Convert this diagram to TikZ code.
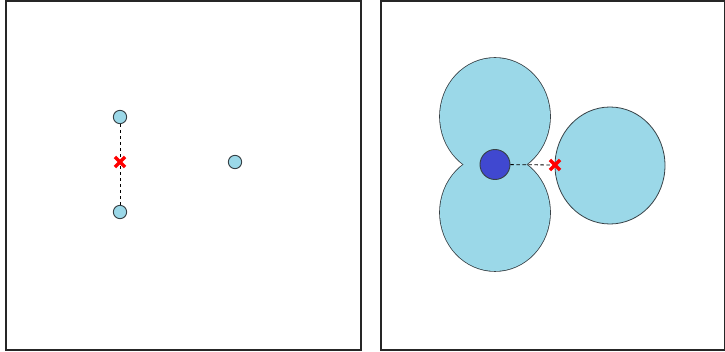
\documentclass[tikz,border=0pt]{standalone}
\usetikzlibrary{shapes.misc}
\definecolor{lobeblue}{RGB}{155,216,232}
\definecolor{coreblue}{RGB}{64,72,208}
\definecolor{edgegray}{RGB}{55,65,70}
\tikzset{
  site/.style={circle,draw=edgegray,fill=lobeblue,line width=0.7pt,minimum size=10pt,inner sep=0pt},
  mid/.style={cross out,draw=red,line width=2.6pt,minimum size=5pt,inner sep=0pt},
  link/.style={line width=0.6pt,dash pattern=on 2.5pt off 2pt}
}
\begin{document}
\begin{tikzpicture}[x=0.75pt,y=-0.75pt]
    \useasboundingbox (0,0) rectangle (725,352);
    % the two panels
    \draw[black!85,line width=1pt] (6,1) rectangle (361,350);
    \draw[black!85,line width=1pt] (381,1) rectangle (724.5,350);
    % left panel
    \node[site] (top) at (120,117) {};
    \node[site] (bot) at (120,212) {};
    \node[site] (far) at (235,162) {};
    \draw[link] (top) -- (bot);
    \node[mid] (cen) at (120,162) {};
    % right panel
    \foreach \cy in {116.5,212.5}{
        \draw[edgegray,line width=1.2pt] (495,\cy) ellipse [x radius=55,y radius=58.5];
    }
    \foreach \cy in {116.5,212.5}{
        \fill[lobeblue] (495,\cy) ellipse [x radius=55,y radius=58.5];
    }
    \draw[edgegray,line width=0.6pt,fill=lobeblue] (610,165.5) ellipse [x radius=55,y radius=58.5];
    \node[circle,draw=edgegray,fill=coreblue,line width=0.7pt,minimum size=22.5pt,inner sep=0pt] (core) at (495,164.5) {};
    \coordinate (hitpt) at (555,165);
    \draw[link] (core) -- (hitpt);
    \node[mid] (hit) at (hitpt) {};
\end{tikzpicture}
\end{document}
